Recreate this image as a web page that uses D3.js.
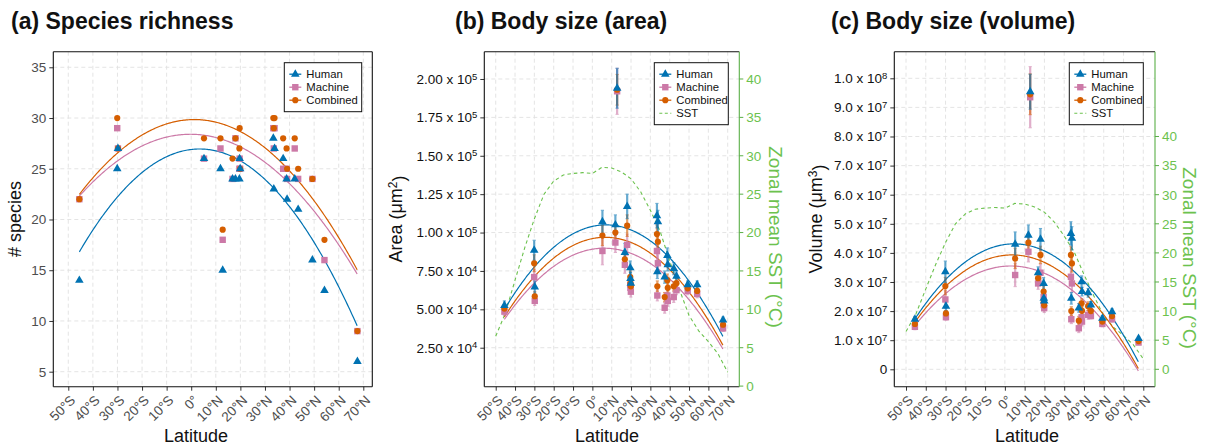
<!DOCTYPE html>
<html>
<head>
<meta charset="utf-8">
<script src="https://cdn.jsdelivr.net/npm/d3@7"></script>
<style>
  body { margin: 0; background: #fff; }
  text { font-family: "Liberation Sans", Arial, Helvetica, sans-serif; }
</style>
</head>
<body>
<svg id="chart" width="1205" height="447"></svg>
<script>
// ---------- sampling sites (latitude, degrees; south negative) ----------
const siteLat = [-45.5, -30.1, -29.8, 5.2, 11.9, 12.8, 16.8, 18.0, 19.6, 19.7, 19.9,
                 33.4, 33.9, 33.6, 37.4, 38.8, 39.0, 42.1, 43.5, 49.3, 54.2, 67.6];

// ---------- (a) species richness ----------
const richHuman    = [14, 25, 27, 26, 25, 15, 24, 24, 24, 26, 25, 28, 27, 23, 26, 24, 22, 24, 21, 16, 13, 6];
const richMachine  = [22, 29, 27, 26, 27, 18, 24, 28, 25, 26, 25, 29, 29, 27, 25, 25, 24, 27, 24, 24, 16, 9];
const richCombined = [22, 30, 27, 28, 28, 19, 26, 28, 27, 29, 25, 30, 30, 29, 28, 27, 25, 28, 25, 24, 18, 9];

// ---------- (b) body size, area (um^2) ----------
const areaHuman    = [52500, 88500, 64500, 107000, 105000, 194000, 87000, 117000, 77000, 70000, 67000,
                      111000, 107000, 74500, 71000, 85000, 79000, 76500, 71500, 66000, 66000, 43000];
const areaMachine  = [48500, 71000, 55500, 88000, 93500, 192000, 79000, 92000, 66000, 64000, 61500,
                      88000, 80000, 59000, 51000, 59000, 55500, 58000, 62500, 62000, 60000, 37600];
const areaCombined = [50500, 80000, 58500, 98000, 100000, 193000, 82600, 104500, 71000, 67000, 65000,
                      99000, 94000, 65000, 58000, 69000, 64000, 65000, 67000, 63700, 62000, 40000];
const areaHumanErr    = [3000, 6500, 4000, 7500, 6500, 13000, 6000, 8000, 4500, 4000, 3500,
                         8000, 7500, 4500, 4000, 5000, 4000, 4000, 3500, 2500, 2500, 2000];
const areaMachineErr  = [2500, 5000, 3000, 9000, 6500, 15000, 5500, 7000, 5000, 4000, 3500,
                         7000, 6000, 3500, 3500, 4000, 3500, 3500, 3000, 2500, 2500, 2000];
const areaCombinedErr = [2500, 5500, 3000, 6500, 5500, 10000, 5000, 7000, 4000, 3500, 3000,
                         6000, 5500, 3500, 3000, 4000, 3500, 3000, 3000, 2500, 2500, 2000];

// ---------- (c) body size, volume (um^3) ----------
const volHuman    = [17.2e6, 33.5e6, 21.7e6, 43.0e6, 46.1e6, 95.4e6, 33.2e6, 44.7e6, 29.5e6, 24.4e6, 23.5e6,
                     46.7e6, 45.0e6, 24.4e6, 21.1e6, 30.1e6, 26.7e6, 26.3e6, 22.1e6, 17.5e6, 19.8e6, 10.6e6];
const volMachine  = [14.6e6, 24.0e6, 17.9e6, 32.4e6, 40.4e6, 93.5e6, 29.5e6, 33.2e6, 24.9e6, 22.1e6, 21.0e6,
                     31.8e6, 29.5e6, 17.2e6, 14.1e6, 17.9e6, 16.4e6, 18.7e6, 18.3e6, 15.6e6, 17.2e6, 9.2e6];
const volCombined = [15.6e6, 28.6e6, 19.2e6, 38.1e6, 43.5e6, 94.5e6, 31.3e6, 39.3e6, 26.7e6, 23.2e6, 22.0e6,
                     39.3e6, 36.4e6, 20.0e6, 16.7e6, 22.7e6, 20.1e6, 21.7e6, 20.0e6, 16.4e6, 18.3e6, 9.7e6];
const volHumanErr    = [1.0e6, 3.7e6, 1.5e6, 4.2e6, 3.5e6, 6.0e6, 2.0e6, 3.7e6, 2.0e6, 1.5e6, 1.5e6,
                        4.0e6, 4.0e6, 2.0e6, 1.5e6, 2.0e6, 1.5e6, 1.5e6, 1.2e6, 1.0e6, 1.0e6, 0.7e6];
const volMachineErr  = [1.0e6, 3.0e6, 1.0e6, 4.0e6, 3.5e6, 10.5e6, 2.0e6, 3.0e6, 2.0e6, 1.5e6, 1.5e6,
                        3.0e6, 3.0e6, 1.5e6, 1.5e6, 1.5e6, 1.5e6, 1.5e6, 1.0e6, 1.0e6, 1.0e6, 0.7e6];
const volCombinedErr = [1.0e6, 3.0e6, 1.0e6, 3.5e6, 3.0e6, 7.0e6, 2.0e6, 3.0e6, 2.0e6, 1.5e6, 1.5e6,
                        3.0e6, 3.0e6, 1.5e6, 1.5e6, 1.5e6, 1.5e6, 1.5e6, 1.0e6, 1.0e6, 1.0e6, 0.7e6];

// ---------- quadratic trend fits: [vertex latitude, peak value, curvature] ----------
const richFitHuman    = [3.4, 26.95, 0.00424];
const richFitMachine  = [-0.36, 28.4, 0.00299];
const richFitCombined = [1.27, 29.85, 0.003373];
const areaFitHuman    = [7.1, 105000, 19.9];
const areaFitMachine  = [6.1, 89800, 17.4];
const areaFitCombined = [6.7, 96900, 19.0];
const volFitHuman     = [4.65, 43.1e6, 1.026e4];
const volFitMachine   = [3.05, 35.5e6, 8.68e3];
const volFitCombined  = [3.62, 39.3e6, 9.57e3];

// ---------- zonal mean sea surface temperature (deg C) ----------
const sstLat  = [-50, -45, -40, -35, -30, -25, -20, -15, -10, -5, 0, 5, 10, 15, 20, 25, 30, 35, 40, 45, 50, 55, 60, 65, 70];
const sstTemp = [6.5, 9.5, 13.8, 18.0, 21.8, 25.0, 26.7, 27.5, 27.7, 27.8, 27.7, 28.5, 28.4, 27.9, 27.0, 25.3,
                 22.9, 20.2, 16.3, 12.6, 9.2, 7.2, 5.8, 4.2, 1.8];

// ---------- axis ticks ----------
const latTicks  = [-50, -40, -30, -20, -10, 0, 10, 20, 30, 40, 50, 60, 70];
const richTicks = [5, 10, 15, 20, 25, 30, 35];
const areaTicks = [25000, 50000, 75000, 100000, 125000, 150000, 175000, 200000];
const volTicks  = [0, 1e7, 2e7, 3e7, 4e7, 5e7, 6e7, 7e7, 8e7, 9e7, 1e8];
const sstTicks  = [0, 5, 10, 15, 20, 25, 30, 35, 40];

const seriesNames  = ["Human", "Machine", "Combined"];
const seriesColors = ["#0072B2", "#CC79A7", "#D55E00"];
const sstColor = "#6CC24E";
const sstAxisColor = "#5AAF47";
const drawOrder = [1, 2, 0];

const svg = d3.select("#chart");
svg.append("rect").attr("width", 1205).attr("height", 447).attr("fill", "#fff");

function latLabel(d) {
  if (d === 0) return "0°";
  return Math.abs(d) + "°" + (d < 0 ? "S" : "N");
}

// mantissa x 10^exp labels
function sciParts(v, digits) {
  if (v === 0) return null;
  const e = Math.floor(Math.log10(v) + 1e-9);
  return [(v / Math.pow(10, e)).toFixed(digits), e];
}

function drawMarker(g, kind, cx, cy, color) {
  if (kind === 0) {
    g.append("path")
      .attr("d", d3.symbol(d3.symbolTriangle, 32)())
      .attr("transform", `translate(${cx},${cy})`)
      .attr("fill", color);
  } else if (kind === 1) {
    const s = 6.4;
    g.append("rect").attr("x", cx - s / 2).attr("y", cy - s / 2)
      .attr("width", s).attr("height", s).attr("fill", color);
  } else {
    g.append("circle").attr("cx", cx).attr("cy", cy).attr("r", 3.1).attr("fill", color);
  }
}

function drawPanel(p) {
  const x = d3.scaleLinear().domain(p.xDomain).range([p.left, p.right]);
  const y = d3.scaleLinear().domain(p.yDomain).range([p.bottom, p.top]);
  const g = svg.append("g");

  // grid
  g.append("g").selectAll("line").data(latTicks).join("line")
    .attr("x1", d => x(d)).attr("x2", d => x(d))
    .attr("y1", p.top).attr("y2", p.bottom)
    .attr("stroke", "#e1e1e1").attr("stroke-width", 0.9).attr("stroke-dasharray", "4,3");
  g.append("g").selectAll("line").data(p.yTicks).join("line")
    .attr("x1", p.left).attr("x2", p.right)
    .attr("y1", d => y(d)).attr("y2", d => y(d))
    .attr("stroke", "#e1e1e1").attr("stroke-width", 0.9).attr("stroke-dasharray", "4,3");

  // bottom axis
  const ax = g.append("g").attr("transform", `translate(0,${p.bottom})`)
    .call(d3.axisBottom(x).tickValues(latTicks).tickSize(4).tickFormat(latLabel));
  ax.select(".domain").remove();
  ax.selectAll(".tick line").attr("stroke", "#333");
  ax.selectAll(".tick text")
    .attr("fill", "#4d4d4d").style("font-size", "13.5px")
    .attr("text-anchor", "end").attr("x", 0).attr("y", 0).attr("dy", "0.35em")
    .attr("transform", "translate(4,11) rotate(-45)");

  // left axis
  const ay = g.append("g").attr("transform", `translate(${p.left},0)`)
    .call(d3.axisLeft(y).tickValues(p.yTicks).tickSize(4).tickFormat(""));
  ay.select(".domain").remove();
  ay.selectAll(".tick line").attr("stroke", "#333");
  p.yTicks.forEach(v => {
    const t = g.append("text")
      .attr("x", p.left - 7).attr("y", y(v)).attr("dy", "0.36em")
      .attr("text-anchor", "end").attr("fill", p.yLabelColor)
      .style("font-size", "13.5px");
    if (p.sci) {
      const parts = sciParts(v, p.sciDigits);
      if (!parts) { t.text("0"); return; }
      t.append("tspan").text(parts[0] + " x 10");
      t.append("tspan").attr("dy", "-0.45em").style("font-size", "9.5px").text(parts[1]);
    } else {
      t.text(v);
    }
  });

  // SST on a secondary scale
  if (p.sstFactor) {
    const yS = v => y(v * p.sstFactor);
    g.append("path")
      .datum(sstLat.map((d, i) => [d, sstTemp[i]]))
      .attr("d", d3.line().x(d => x(d[0])).y(d => yS(d[1])))
      .attr("fill", "none").attr("stroke", sstColor).attr("stroke-width", 1.1)
      .attr("stroke-dasharray", "3.5,3");
    sstTicks.forEach(v => {
      g.append("line").attr("x1", p.right).attr("x2", p.right + 4)
        .attr("y1", yS(v)).attr("y2", yS(v)).attr("stroke", sstAxisColor);
      g.append("text").attr("x", p.right + 7).attr("y", yS(v)).attr("dy", "0.36em")
        .attr("fill", sstColor).style("font-size", "13.5px").text(v);
    });
    g.append("text")
      .attr("transform", `translate(${p.sstTitleX},${p.sstTitleY}) rotate(90)`)
      .attr("text-anchor", "middle").attr("fill", sstColor)
      .style("font-size", "19px").text("Zonal mean SST (°C)");
  }

  // fitted trends
  const latMin = d3.min(siteLat), latMax = d3.max(siteLat);
  const fitLats = d3.range(latMin, latMax + 0.01, 0.5);
  p.fits.forEach((f, s) => {
    g.append("path")
      .datum(fitLats.map(l => [l, f[1] - f[2] * (l - f[0]) * (l - f[0])]))
      .attr("d", d3.line().x(d => x(d[0])).y(d => y(d[1])))
      .attr("fill", "none").attr("stroke", seriesColors[s]).attr("stroke-width", 1.2);
  });

  // error bars
  if (p.errs) {
    drawOrder.forEach(s => {
      const vals = p.values[s], errs = p.errs[s];
      siteLat.forEach((l, i) => {
        const cx = x(l), y1 = y(vals[i] - errs[i]), y2 = y(vals[i] + errs[i]);
        const eg = g.append("g").attr("stroke", seriesColors[s]).attr("stroke-width", 2.2)
          .attr("opacity", 0.6);
        eg.append("line").attr("x1", cx).attr("x2", cx).attr("y1", y1).attr("y2", y2);
        eg.append("line").attr("x1", cx - 1.6).attr("x2", cx + 1.6).attr("y1", y1).attr("y2", y1).attr("stroke-width", 1);
        eg.append("line").attr("x1", cx - 1.6).attr("x2", cx + 1.6).attr("y1", y2).attr("y2", y2).attr("stroke-width", 1);
      });
    });
  }

  // points
  drawOrder.forEach(s => {
    p.values[s].forEach((v, i) => drawMarker(g, s, x(siteLat[i]), y(v), seriesColors[s]));
  });

  // frame
  g.append("line").attr("x1", p.left).attr("x2", p.right).attr("y1", p.top).attr("y2", p.top)
    .attr("stroke", "#111").attr("stroke-width", 1.1);
  g.append("line").attr("x1", p.left).attr("x2", p.right).attr("y1", p.bottom).attr("y2", p.bottom)
    .attr("stroke", "#111").attr("stroke-width", 1.1);
  g.append("line").attr("x1", p.left).attr("x2", p.left).attr("y1", p.top).attr("y2", p.bottom)
    .attr("stroke", "#111").attr("stroke-width", 1.1);
  g.append("line").attr("x1", p.right).attr("x2", p.right).attr("y1", p.top).attr("y2", p.bottom)
    .attr("stroke", p.sstFactor ? sstAxisColor : "#111").attr("stroke-width", 1.1);

  // legend
  const lg = g.append("g");
  const entries = p.sstFactor ? 4 : 3;
  lg.append("rect").attr("x", p.legend[0]).attr("y", p.legend[1])
    .attr("width", p.legend[2]).attr("height", 10 + entries * 13)
    .attr("fill", "#fff").attr("stroke", "#111").attr("stroke-width", 1);
  const kx = p.legend[0] + 5, kw = 12;
  for (let s = 0; s < entries; s++) {
    const ky = p.legend[1] + 11.5 + s * 13;
    if (s < 3) {
      lg.append("line").attr("x1", kx).attr("x2", kx + kw).attr("y1", ky).attr("y2", ky)
        .attr("stroke", seriesColors[s]).attr("stroke-width", 1.3);
      drawMarker(lg, s, kx + kw / 2, ky, seriesColors[s]);
    } else {
      lg.append("line").attr("x1", kx).attr("x2", kx + kw).attr("y1", ky).attr("y2", ky)
        .attr("stroke", sstColor).attr("stroke-width", 1.1).attr("stroke-dasharray", "3,2.5");
    }
    lg.append("text").attr("x", kx + kw + 5).attr("y", ky).attr("dy", "0.36em")
      .style("font-size", "11.3px").attr("fill", "#111")
      .text(s < 3 ? seriesNames[s] : "SST");
  }

  // titles
  g.append("text").attr("x", p.titleX).attr("y", 29)
    .style("font-size", "23px").style("font-weight", "bold").attr("fill", "#111")
    .text(p.title);
  g.append("text").attr("x", p.xTitleX).attr("y", 442).attr("text-anchor", "middle")
    .style("font-size", "18px").attr("fill", "#111").text("Latitude");
  const yt = g.append("text")
    .attr("transform", `translate(${p.yTitleX},219) rotate(-90)`)
    .attr("text-anchor", "middle").style("font-size", "18px").attr("fill", "#111");
  yt.append("tspan").text(p.yTitle[0]);
  if (p.yTitle[1]) {
    yt.append("tspan").attr("dy", "-0.45em").style("font-size", "12px").text(p.yTitle[1]);
    yt.append("tspan").attr("dy", "0.45em").text(p.yTitle[2]);
  }
}

drawPanel({
  left: 53.3, right: 372.3, top: 51.7, bottom: 386.7,
  xDomain: [-56.1, 73.66], yDomain: [3.522, 36.537],
  yTicks: richTicks, sci: false, yLabelColor: "#4d4d4d",
  values: [richHuman, richMachine, richCombined],
  fits: [richFitHuman, richFitMachine, richFitCombined],
  legend: [284.3, 62.7, 77.4],
  title: "(a) Species richness", titleX: 11,
  xTitleX: 196, yTitleX: 21, yTitle: ["# species"]
});

drawPanel({
  left: 484.3, right: 739.3, top: 51.7, bottom: 386.7,
  xDomain: [-55.9, 76.0], yDomain: [-391, 217779],
  yTicks: areaTicks, sci: true, sciDigits: 2, yLabelColor: "#111",
  values: [areaHuman, areaMachine, areaCombined],
  errs: [areaHumanErr, areaMachineErr, areaCombinedErr],
  fits: [areaFitHuman, areaFitMachine, areaFitCombined],
  sstFactor: 5000, sstTitleX: 769, sstTitleY: 237,
  legend: [654.3, 62.7, 74],
  title: "(b) Body size (area)", titleX: 455,
  xTitleX: 607, yTitleX: 402, yTitle: ["Area (μm", "2", ")"]
});

drawPanel({
  left: 894.3, right: 1155, top: 51.7, bottom: 386.7,
  xDomain: [-55.92, 75.92], yDomain: [-5.979e6, 1.0914e8],
  yTicks: volTicks, sci: true, sciDigits: 1, yLabelColor: "#111",
  values: [volHuman, volMachine, volCombined],
  errs: [volHumanErr, volMachineErr, volCombinedErr],
  fits: [volFitHuman, volFitMachine, volFitCombined],
  sstFactor: 2e6, sstTitleX: 1183, sstTitleY: 258,
  legend: [1069.3, 62.7, 74],
  title: "(c) Body size (volume)", titleX: 831,
  xTitleX: 1027, yTitleX: 822, yTitle: ["Volume (μm", "3", ")"]
});
</script>
</body>
</html>
